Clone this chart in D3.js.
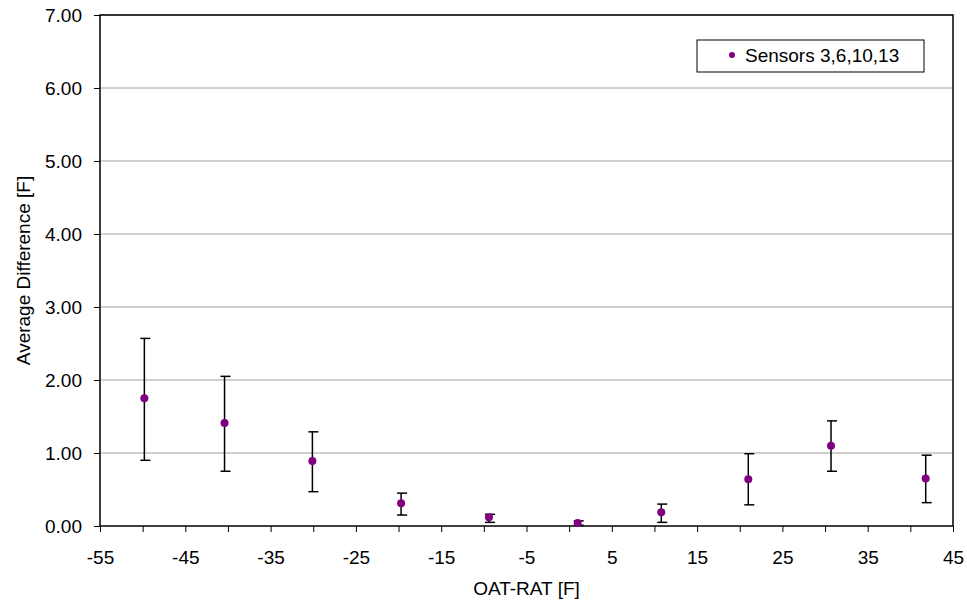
<!DOCTYPE html>
<html>
<head>
<meta charset="utf-8">
<script src="https://cdn.jsdelivr.net/npm/d3@7"></script>
<style>
  body { margin: 0; background: #fff; }
  text { font-family: "Liberation Sans", Arial, sans-serif; }
</style>
</head>
<body>
<div id="viz"></div>
<script>
const oatRat = [-49.8, -40.4, -30.1, -19.7, -9.4, 1.0, 10.8, 21.0, 30.7, 41.8];
const avgDiff = [1.75, 1.41, 0.89, 0.31, 0.12, 0.04, 0.19, 0.64, 1.10, 0.65];
const errHigh = [2.57, 2.05, 1.29, 0.45, 0.16, 0.07, 0.30, 0.99, 1.44, 0.97];
const errLow = [0.90, 0.75, 0.47, 0.15, 0.05, 0.01, 0.05, 0.29, 0.75, 0.32];
const xTicks = [-55, -45, -35, -25, -15, -5, 5, 15, 25, 35, 45];
const xMinorTicks = [-50, -40, -30, -20, -10, 0, 10, 20, 30, 40];
const yTicks = [0, 1, 2, 3, 4, 5, 6, 7];
const seriesName = 'Sensors 3,6,10,13';

(() => {
  let margin = { top: 15, right: 14, bottom: 80, left: 100 },
    width = 967 - margin.left - margin.right,
    height = 606 - margin.top - margin.bottom;

  let svg = d3.select('#viz')
    .append('svg')
    .attr('width', 967)
    .attr('height', 606)
    .append('g')
    .attr('transform', `translate(${margin.left}, ${margin.top})`);

  let x = d3.scaleLinear().domain([-55, 45]).range([0, width]);
  let y = d3.scaleLinear().domain([0, 7]).range([height, 0]);

  // gridlines
  svg.append('g')
    .selectAll('line')
    .data(yTicks.slice(1))
    .join('line')
    .attr('x1', 0)
    .attr('x2', width)
    .attr('y1', d => y(d))
    .attr('y2', d => y(d))
    .style('stroke', '#a0a0a0')
    .style('stroke-width', 1);

  // frame
  svg.append('rect')
    .attr('width', width)
    .attr('height', height)
    .style('fill', 'none')
    .style('stroke', '#000')
    .style('stroke-width', 1.5);

  let yAxis = svg.append('g')
    .call(d3.axisLeft(y).tickValues(yTicks).tickFormat(d3.format('.2f')).tickSize(6).tickPadding(12));
  yAxis.select('.domain').remove();
  yAxis.selectAll('text').style('font-size', '19px').style('fill', '#000');

  let xAxis = svg.append('g')
    .attr('transform', `translate(0,${height})`)
    .call(d3.axisBottom(x).tickValues(xTicks).tickFormat(d => String(d)).tickSize(6).tickPadding(19));
  xAxis.select('.domain').remove();
  xAxis.selectAll('text').style('font-size', '19px').style('fill', '#000');

  svg.append('g')
    .attr('transform', `translate(0,${height})`)
    .call(d3.axisBottom(x).tickValues(xMinorTicks).tickFormat('').tickSize(6))
    .select('.domain').remove();

  // error bars
  let bars = svg.append('g')
    .selectAll('g')
    .data(oatRat.map((v, i) => ({ x: v, y: avgDiff[i], hi: errHigh[i], lo: errLow[i] })))
    .join('g');

  bars.append('line')
    .attr('x1', d => x(d.x))
    .attr('x2', d => x(d.x))
    .attr('y1', d => y(d.hi))
    .attr('y2', d => y(d.lo))
    .style('stroke', '#000')
    .style('stroke-width', 1.5);

  bars.selectAll('.cap')
    .data(d => [{ x: d.x, v: d.hi }, { x: d.x, v: d.lo }])
    .join('line')
    .attr('class', 'cap')
    .attr('x1', d => x(d.x) - 4)
    .attr('x2', d => x(d.x) + 6)
    .attr('y1', d => y(d.v))
    .attr('y2', d => y(d.v))
    .style('stroke', '#000')
    .style('stroke-width', 1.5);

  bars.append('circle')
    .attr('cx', d => x(d.x))
    .attr('cy', d => y(d.y))
    .attr('r', 4)
    .style('fill', '#800080');

  // axis titles
  svg.append('text')
    .attr('x', width / 2)
    .attr('y', height + 69)
    .attr('text-anchor', 'middle')
    .style('font-size', '19px')
    .text('OAT-RAT [F]');

  svg.append('text')
    .attr('transform', `translate(${-70},${height / 2}) rotate(-90)`)
    .attr('text-anchor', 'middle')
    .style('font-size', '19px')
    .text('Average Difference [F]');

  // legend
  let legend = svg.append('g')
    .attr('transform', `translate(${697 - margin.left},${40 - margin.top})`);
  legend.append('rect')
    .attr('width', 227)
    .attr('height', 32)
    .style('fill', '#fff')
    .style('stroke', '#000')
    .style('stroke-width', 1);
  legend.append('circle')
    .attr('cx', 35)
    .attr('cy', 15)
    .attr('r', 3)
    .style('fill', '#800080');
  legend.append('text')
    .attr('x', 48)
    .attr('y', 22)
    .style('font-size', '19px')
    .text(seriesName);
})();
</script>
</body>
</html>
